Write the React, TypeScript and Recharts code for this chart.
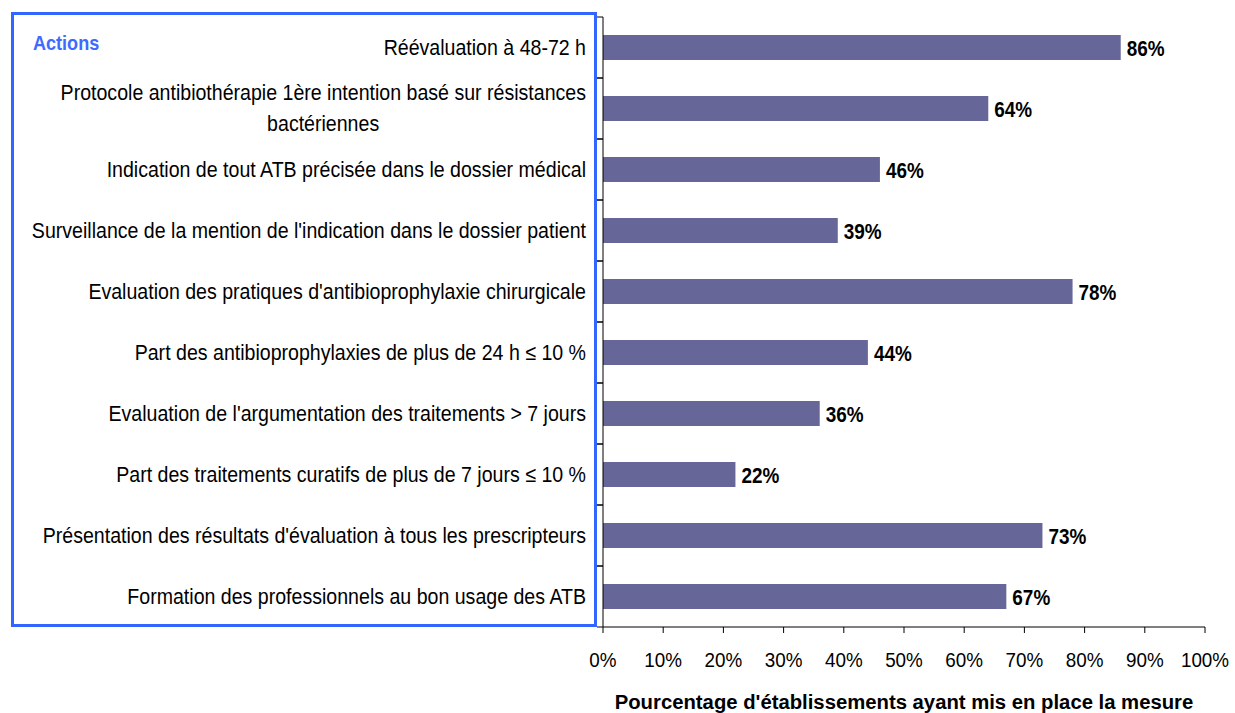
import React from "react";
import { BarChart, Bar, XAxis, YAxis, LabelList, Label } from "recharts";

const categories = [
  "Réévaluation à 48-72 h",
  "Protocole antibiothérapie 1ère intention basé sur résistances\nbactériennes",
  "Indication de tout ATB précisée dans le dossier médical",
  "Surveillance de la mention de l'indication dans le dossier patient",
  "Evaluation des pratiques d'antibioprophylaxie chirurgicale",
  "Part des antibioprophylaxies de plus de 24 h ≤ 10 %",
  "Evaluation de l'argumentation des traitements > 7 jours",
  "Part des traitements curatifs de plus de 7 jours ≤ 10 %",
  "Présentation des résultats d'évaluation à tous les prescripteurs",
  "Formation des professionnels au bon usage des ATB",
];
const values = [86, 64, 46, 39, 78, 44, 36, 22, 73, 67];
const xTicks = [0, 10, 20, 30, 40, 50, 60, 70, 80, 90, 100];
const axisTitle = "Pourcentage d'établissements ayant mis en place la mesure";
const boxTitle = "Actions";

const data = categories.map((name, i) => ({ name, value: values[i] }));

const W = 1235;
const H = 713;
const TOP = 17;
const X_AXIS_H = 86;
const Y_AXIS_W = 603;
const RIGHT = 30;
const BAND = (H - TOP - X_AXIS_H) / categories.length;
const FONT = "'Liberation Sans', Arial, sans-serif";
const CAT_SIZE = 22;
const CAT_SX = 0.89;

function measure(text: string): number {
  if (typeof document === "undefined") return text.length * 9;
  const c = document.createElement("canvas");
  const ctx = c.getContext("2d") as any;
  ctx.font = `${CAT_SIZE}px 'Liberation Sans'`;
  return ctx.measureText(text).width * CAT_SX;
}

const SText = ({ x, y, anchor, children, size, sx, weight }: any) => (
  <text
    transform={`translate(${x},${y}) scale(${sx},1)`}
    x={0}
    y={0}
    textAnchor={anchor}
    fontFamily={FONT}
    fontSize={size}
    fontWeight={weight || "normal"}
    fill="#000"
  >
    {children}
  </text>
);

const CategoryTick = (props: any) => {
  const { y, payload } = props;
  const lines = String(payload.value).split("\n");
  const xEnd = Y_AXIS_W - 17;
  const ticks = (
    <g>
      <line x1={Y_AXIS_W - 6} x2={Y_AXIS_W} y1={y - BAND / 2} y2={y - BAND / 2} stroke="#000" />
      <line x1={Y_AXIS_W - 6} x2={Y_AXIS_W} y1={y + BAND / 2} y2={y + BAND / 2} stroke="#000" />
    </g>
  );
  if (lines.length === 1) {
    return (
      <g>
        {ticks}
        <SText x={xEnd} y={y + 7} anchor="end" size={CAT_SIZE} sx={CAT_SX}>
          {lines[0]}
        </SText>
      </g>
    );
  }
  const w1 = measure(lines[0]);
  return (
    <g>
      {ticks}
      <SText x={xEnd} y={y - 9} anchor="end" size={CAT_SIZE} sx={CAT_SX}>
        {lines[0]}
      </SText>
      <SText x={xEnd - w1 / 2} y={y + 22} anchor="middle" size={CAT_SIZE} sx={CAT_SX}>
        {lines[1]}
      </SText>
    </g>
  );
};

const XTick = (props: any) => {
  const { x, y, payload } = props;
  return (
    <SText x={x} y={y + 22} anchor="middle" size={20.5} sx={0.92}>
      {`${payload.value}%`}
    </SText>
  );
};

const ValueLabel = (props: any) => {
  const { x, y, width, height, value } = props;
  return (
    <SText x={x + width + 6} y={y + height / 2 + 8} anchor="start" size={21.5} sx={0.88} weight="bold">
      {`${value}%`}
    </SText>
  );
};

export default function App() {
  return (
    <div style={{ position: "absolute", left: 0, top: 0, width: W, height: H, background: "#fff" }}>
      <BarChart
        width={W}
        height={H}
        data={data}
        layout="vertical"
        margin={{ top: TOP, right: RIGHT, left: 0, bottom: 0 }}
      >
        <XAxis
          type="number"
          domain={[0, 100]}
          ticks={xTicks}
          interval={0}
          height={X_AXIS_H}
          tickSize={6}
          tickMargin={12}
          stroke="#000"
          tick={<XTick />}
        >
          <Label
            value={axisTitle}
            position="insideBottom"
            offset={4}
            style={{ fontFamily: FONT, fontSize: 20.3, fontWeight: "bold", fill: "#000" }}
          />
        </XAxis>
        <YAxis
          type="category"
          dataKey="name"
          width={Y_AXIS_W}
          interval={0}
          tickLine={false}
          stroke="#000"
          tick={<CategoryTick />}
        />
        <Bar dataKey="value" fill="#666699" barSize={25} isAnimationActive={false}>
          <LabelList dataKey="value" content={<ValueLabel />} />
        </Bar>
      </BarChart>
      <div
        style={{
          position: "absolute",
          left: 11,
          top: 12,
          width: 580,
          height: 609,
          border: "3px solid #3366FF",
          boxSizing: "content-box",
          pointerEvents: "none",
        }}
      />
      <div
        style={{
          position: "absolute",
          left: 33,
          top: 31,
          fontFamily: FONT,
          fontSize: 21,
          fontWeight: "bold",
          color: "#3D6BFF",
          transform: "scaleX(0.86)",
          transformOrigin: "left top",
          whiteSpace: "nowrap",
        }}
      >
        {boxTitle}
      </div>
    </div>
  );
}
